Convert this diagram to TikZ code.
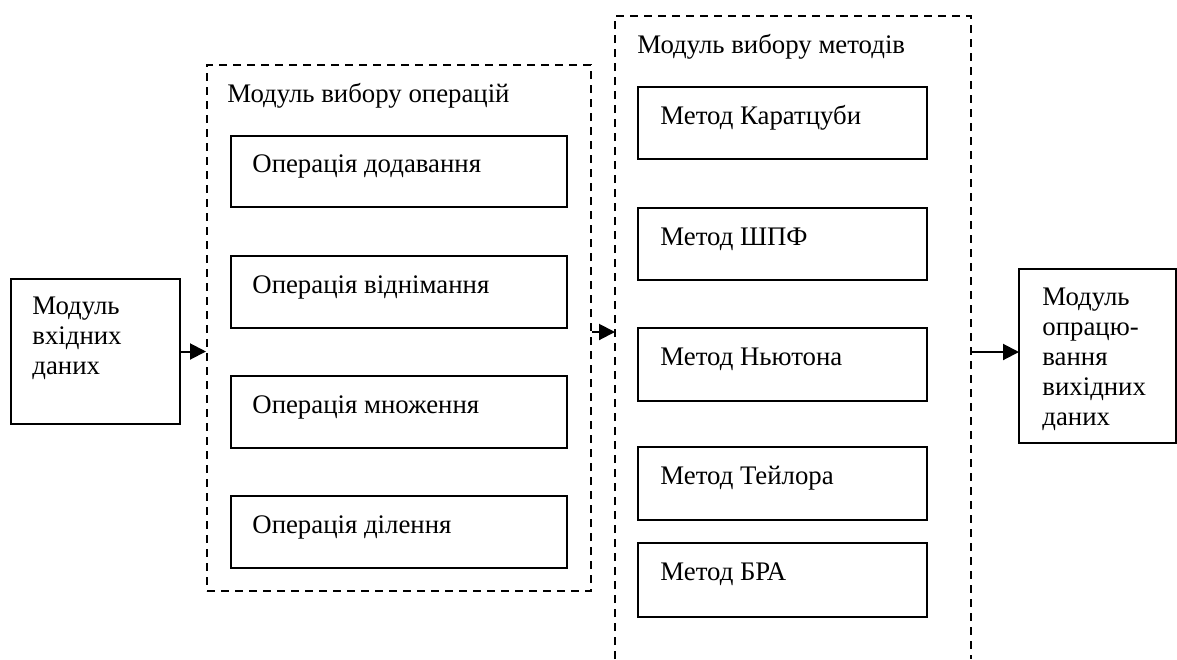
\documentclass[tikz,border=0pt]{standalone}
\usepackage{fontspec}
\setmainfont{Liberation Serif}
\usetikzlibrary{fit,arrows.meta}
\begin{document}
\begin{tikzpicture}[x=0.5pt,y=-0.5pt,
  box/.style={draw=black, line width=1.1pt, inner sep=0pt, fill=none},
  frame/.style={draw=black, line width=1pt, dash pattern=on 4pt off 3pt},
  txt/.style={inner sep=0pt, font=\fontsize{13.4}{14}\selectfont, anchor=base west},
  mtxt/.style={inner sep=0pt, align=left, anchor=north west, font=\fontsize{13.4}{15}\selectfont},
  conn/.style={line width=1pt, -{Triangle[length=8pt,width=8pt]}}]
\useasboundingbox (0,0) rectangle (1177,659);
% input module
\node[box, fit={(11,279) (180,424)}] (inp) {};
\node[mtxt] (inptxt) at (32,297) {Модуль\\вхідних\\даних};
% operations frame
\node[frame, inner sep=0pt, fit={(207,65) (591,591)}] (ops) {};
\node[txt] (opstitle) at (227,102) {Модуль вибору операцій};
\node[box, fit={(231,136) (567,207)}] (o1) {};
\node[txt] (o1t) at (252,172) {Операція додавання};
\node[box, fit={(231,256) (567,328)}] (o2) {};
\node[txt] (o2t) at (252,293) {Операція віднімання};
\node[box, fit={(231,376) (567,448)}] (o3) {};
\node[txt] (o3t) at (252,413) {Операція множення};
\node[box, fit={(231,496) (567,568)}] (o4) {};
\node[txt] (o4t) at (252,533) {Операція ділення};
% methods frame (bottom runs off the page)
\coordinate (mbl) at (615,659);
\coordinate (mtl) at (615,16);
\coordinate (mtr) at (971,16);
\coordinate (mbr) at (971,659);
\draw[frame] (mbl) -- (mtl) -- (mtr) -- (mbr);
\node[txt] (mtitle) at (637,53) {Модуль вибору методів};
\node[box, fit={(638,87) (927,159)}] (m1) {};
\node[txt] (m1t) at (660,124) {Метод Каратцуби};
\node[box, fit={(638,208) (927,280)}] (m2) {};
\node[txt] (m2t) at (660,245) {Метод ШПФ};
\node[box, fit={(638,328) (927,401)}] (m3) {};
\node[txt] (m3t) at (660,365) {Метод Ньютона};
\node[box, fit={(638,447) (927,520)}] (m4) {};
\node[txt] (m4t) at (660,484) {Метод Тейлора};
\node[box, fit={(638,543) (927,617)}] (m5) {};
\node[txt] (m5t) at (660,580) {Метод БРА};
% output module
\node[box, fit={(1019,269) (1176,443)}] (out) {};
\node[mtxt] (outtxt) at (1042,288) {Модуль\\опрацю-\\вання\\вихідних\\даних};
% connectors
\coordinate (a2s) at (592,332);
\coordinate (a2e) at (615,332);
\coordinate (a3s) at (972,352);
\coordinate (a3e) at (1019,352);
\draw[conn] (inp.east) -- (inp.east -| ops.west);
\draw[conn] (a2s) -- (a2e);
\draw[conn] (a3s) -- (a3e);
\end{tikzpicture}
\end{document}
